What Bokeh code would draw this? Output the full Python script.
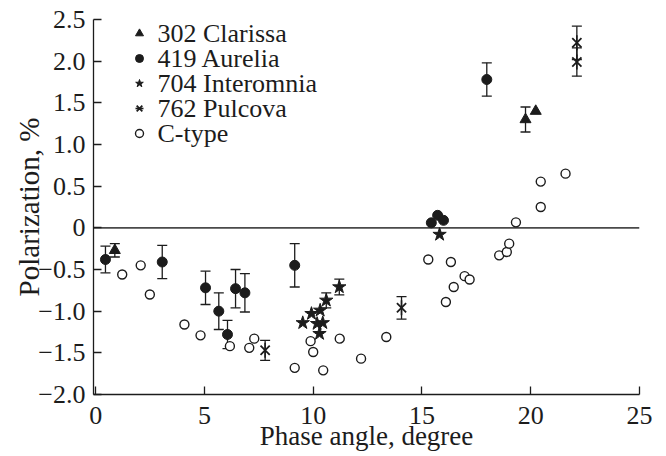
import math
from bokeh.plotting import figure
from bokeh.models import (ColumnDataSource, Whisker, Span, Legend, LegendItem,
                          FixedTicker, TeeHead, Range1d, Label)
from bokeh.embed import file_html
from bokeh.resources import INLINE

# ---- data ----
clarissa_x = [0.88, 19.76, 20.23]
clarissa_y = [-0.27, 1.30, 1.40]
clarissa_err = [0.08, 0.15, 0.0]

aurelia_x = [0.45, 3.06, 5.05, 5.66, 6.06, 6.43, 6.86, 9.15, 15.43, 15.72, 15.99, 17.98]
aurelia_y = [-0.38, -0.41, -0.72, -1.00, -1.28, -0.73, -0.78, -0.45, 0.06, 0.15, 0.09, 1.78]
aurelia_err = [0.16, 0.20, 0.20, 0.22, 0.17, 0.23, 0.23, 0.26, 0.0, 0.0, 0.0, 0.20]

interomnia_x = [9.52, 9.92, 10.32, 10.60, 10.18, 10.44, 10.29, 11.20, 15.81]
interomnia_y = [-1.14, -1.03, -0.99, -0.87, -1.15, -1.14, -1.27, -0.71, -0.08]
interomnia_err = [0.0, 0.0, 0.0, 0.09, 0.0, 0.0, 0.0, 0.095, 0.0]

pulcova_x = [7.79, 14.06, 22.12, 22.12]
pulcova_y = [-1.47, -0.96, 2.22, 1.99]
pulcova_err = [0.12, 0.135, 0.20, 0.17]

ctype_x = [1.22, 2.07, 2.49, 4.08, 4.82, 6.17, 7.06, 7.29, 9.15, 9.88, 10.00, 10.46,
           11.22, 12.20, 13.36, 15.29, 16.10, 16.33, 16.46, 16.96, 17.19, 18.55,
           18.90, 19.01, 19.32, 20.46, 20.46, 21.60]
ctype_y = [-0.56, -0.45, -0.80, -1.16, -1.29, -1.42, -1.44, -1.33, -1.68, -1.36, -1.49, -1.71,
           -1.33, -1.57, -1.31, -0.38, -0.89, -0.41, -0.71, -0.58, -0.62, -0.33,
           -0.29, -0.19, 0.066, 0.25, 0.555, 0.65]

series_names = ["302 Clarissa", "419 Aurelia", "704 Interomnia", "762 Pulcova", "C-type"]

x_ticks = [0, 5, 10, 15, 20, 25]
y_ticks = [2.5, 2.0, 1.5, 1.0, 0.5, 0.0, -0.5, -1.0, -1.5, -2.0]
y_tick_labels = ["2.5", "2.0", "1.5", "1.0", "0.5", "0", "\u22120.5", "\u22121.0", "\u22121.5", "\u22122.0"]

x_label = "Phase angle, degree"
y_label = "Polarization, %"

# ---- figure ----
INK = "#1c1c1c"
FONT = "Liberation Serif"

p = figure(width=666, height=456, output_backend="svg", toolbar_location=None,
           x_range=Range1d(-0.1, 25), y_range=Range1d(-2.0, 2.5),
           min_border_left=93, min_border_right=27, min_border_top=19, min_border_bottom=62)
p.outline_line_color = None
p.grid.visible = False
p.background_fill_color = "white"
p.border_fill_color = "white"

p.xaxis.ticker = FixedTicker(ticks=x_ticks)
p.yaxis.ticker = FixedTicker(ticks=y_ticks)
p.yaxis.major_label_overrides = {(int(v) if float(v).is_integer() else v): lab
                                 for v, lab in zip(y_ticks, y_tick_labels)}
p.xaxis.axis_label = x_label
p.yaxis.axis_label = y_label

for ax in (p.xaxis[0], p.yaxis[0]):
    ax.axis_line_color = INK
    ax.axis_line_width = 1.3
    ax.major_tick_line_color = INK
    ax.major_tick_line_width = 1.3
    ax.major_tick_in = 8
    ax.major_tick_out = 0
    ax.minor_tick_in = 0
    ax.minor_tick_out = 0
    ax.major_label_text_font = FONT
    ax.major_label_text_font_size = "26px"
    ax.major_label_text_font_style = "normal"
    ax.major_label_text_color = INK
    ax.axis_label_text_font = FONT
    ax.axis_label_text_font_style = "normal"
    ax.axis_label_text_color = INK

p.xaxis.axis_label_text_font_size = "27px"
p.yaxis.axis_label_text_font_size = "29px"
p.xaxis.major_label_standoff = 12
p.xaxis.axis_label_standoff = -6
p.yaxis.major_label_standoff = 8
p.yaxis.axis_label_standoff = -10

p.add_layout(Span(location=0, dimension="width", line_color="#4a4a4a",
                  line_width=1.6, level="underlay"))


def add_errors(xs, ys, errs):
    xx = [x for x, e in zip(xs, errs) if e > 0]
    up = [y + e for y, e in zip(ys, errs) if e > 0]
    lo = [y - e for y, e in zip(ys, errs) if e > 0]
    src = ColumnDataSource(dict(x=xx, upper=up, lower=lo))
    w = Whisker(base="x", upper="upper", lower="lower", source=src,
                line_color=INK, line_width=1.3, level="underlay",
                upper_head=TeeHead(size=10, line_color=INK, line_width=1.3),
                lower_head=TeeHead(size=10, line_color=INK, line_width=1.3))
    p.add_layout(w)


add_errors(clarissa_x, clarissa_y, clarissa_err)
add_errors(aurelia_x, aurelia_y, aurelia_err)
add_errors(interomnia_x, interomnia_y, interomnia_err)
add_errors(pulcova_x, pulcova_y, pulcova_err)

r_c = p.scatter(ctype_x, ctype_y, marker="circle", size=9, fill_color="white",
                line_color=INK, line_width=1.4)
r_a = p.scatter(aurelia_x, aurelia_y, marker="circle", size=10, fill_color=INK, line_color=INK)
r_t = p.scatter(clarissa_x, clarissa_y, marker="triangle", size=11, fill_color=INK, line_color=INK)
r_s = p.scatter(interomnia_x, interomnia_y, marker="star", size=14, fill_color=INK, line_color=INK)
r_px = p.scatter(pulcova_x, pulcova_y, marker="x", size=13, line_color=INK, line_width=1.8)
r_pv = p.scatter(pulcova_x, pulcova_y, marker="dash", size=15, angle=math.pi / 2,
                 line_color=INK, line_width=1.6)

# ---- legend: marker column from a Legend, names as text labels beside it ----
renderers = [[r_t], [r_a], [r_s], [r_px, r_pv], [r_c]]
items = [LegendItem(label=" ", renderers=rs) for rs in renderers]
FRAME_LEFT, FRAME_BOTTOM = 93, 394
first_row = 32.7
row_gap = 5
glyph_h = 20
row_step = glyph_h + row_gap
leg_height = 5 * glyph_h + 4 * row_gap
leg_top = first_row - glyph_h / 2
leg = Legend(items=items,
             location=(129 - FRAME_LEFT, FRAME_BOTTOM - leg_top - leg_height),
             padding=0, margin=0, spacing=row_gap,
             glyph_width=20, glyph_height=glyph_h, label_height=glyph_h, label_width=1,
             label_standoff=0, label_text_font_size="1px",
             background_fill_alpha=0, border_line_alpha=0)
p.add_layout(leg)

for i, name in enumerate(series_names):
    p.add_layout(Label(x=157 - FRAME_LEFT, y=FRAME_BOTTOM - (first_row + row_step * i),
                       x_units="screen", y_units="screen", text=name,
                       text_font=FONT, text_font_size="26px", text_color=INK,
                       text_baseline="middle", text_align="left"))

open("out.html", "w").write(file_html(p, INLINE))
